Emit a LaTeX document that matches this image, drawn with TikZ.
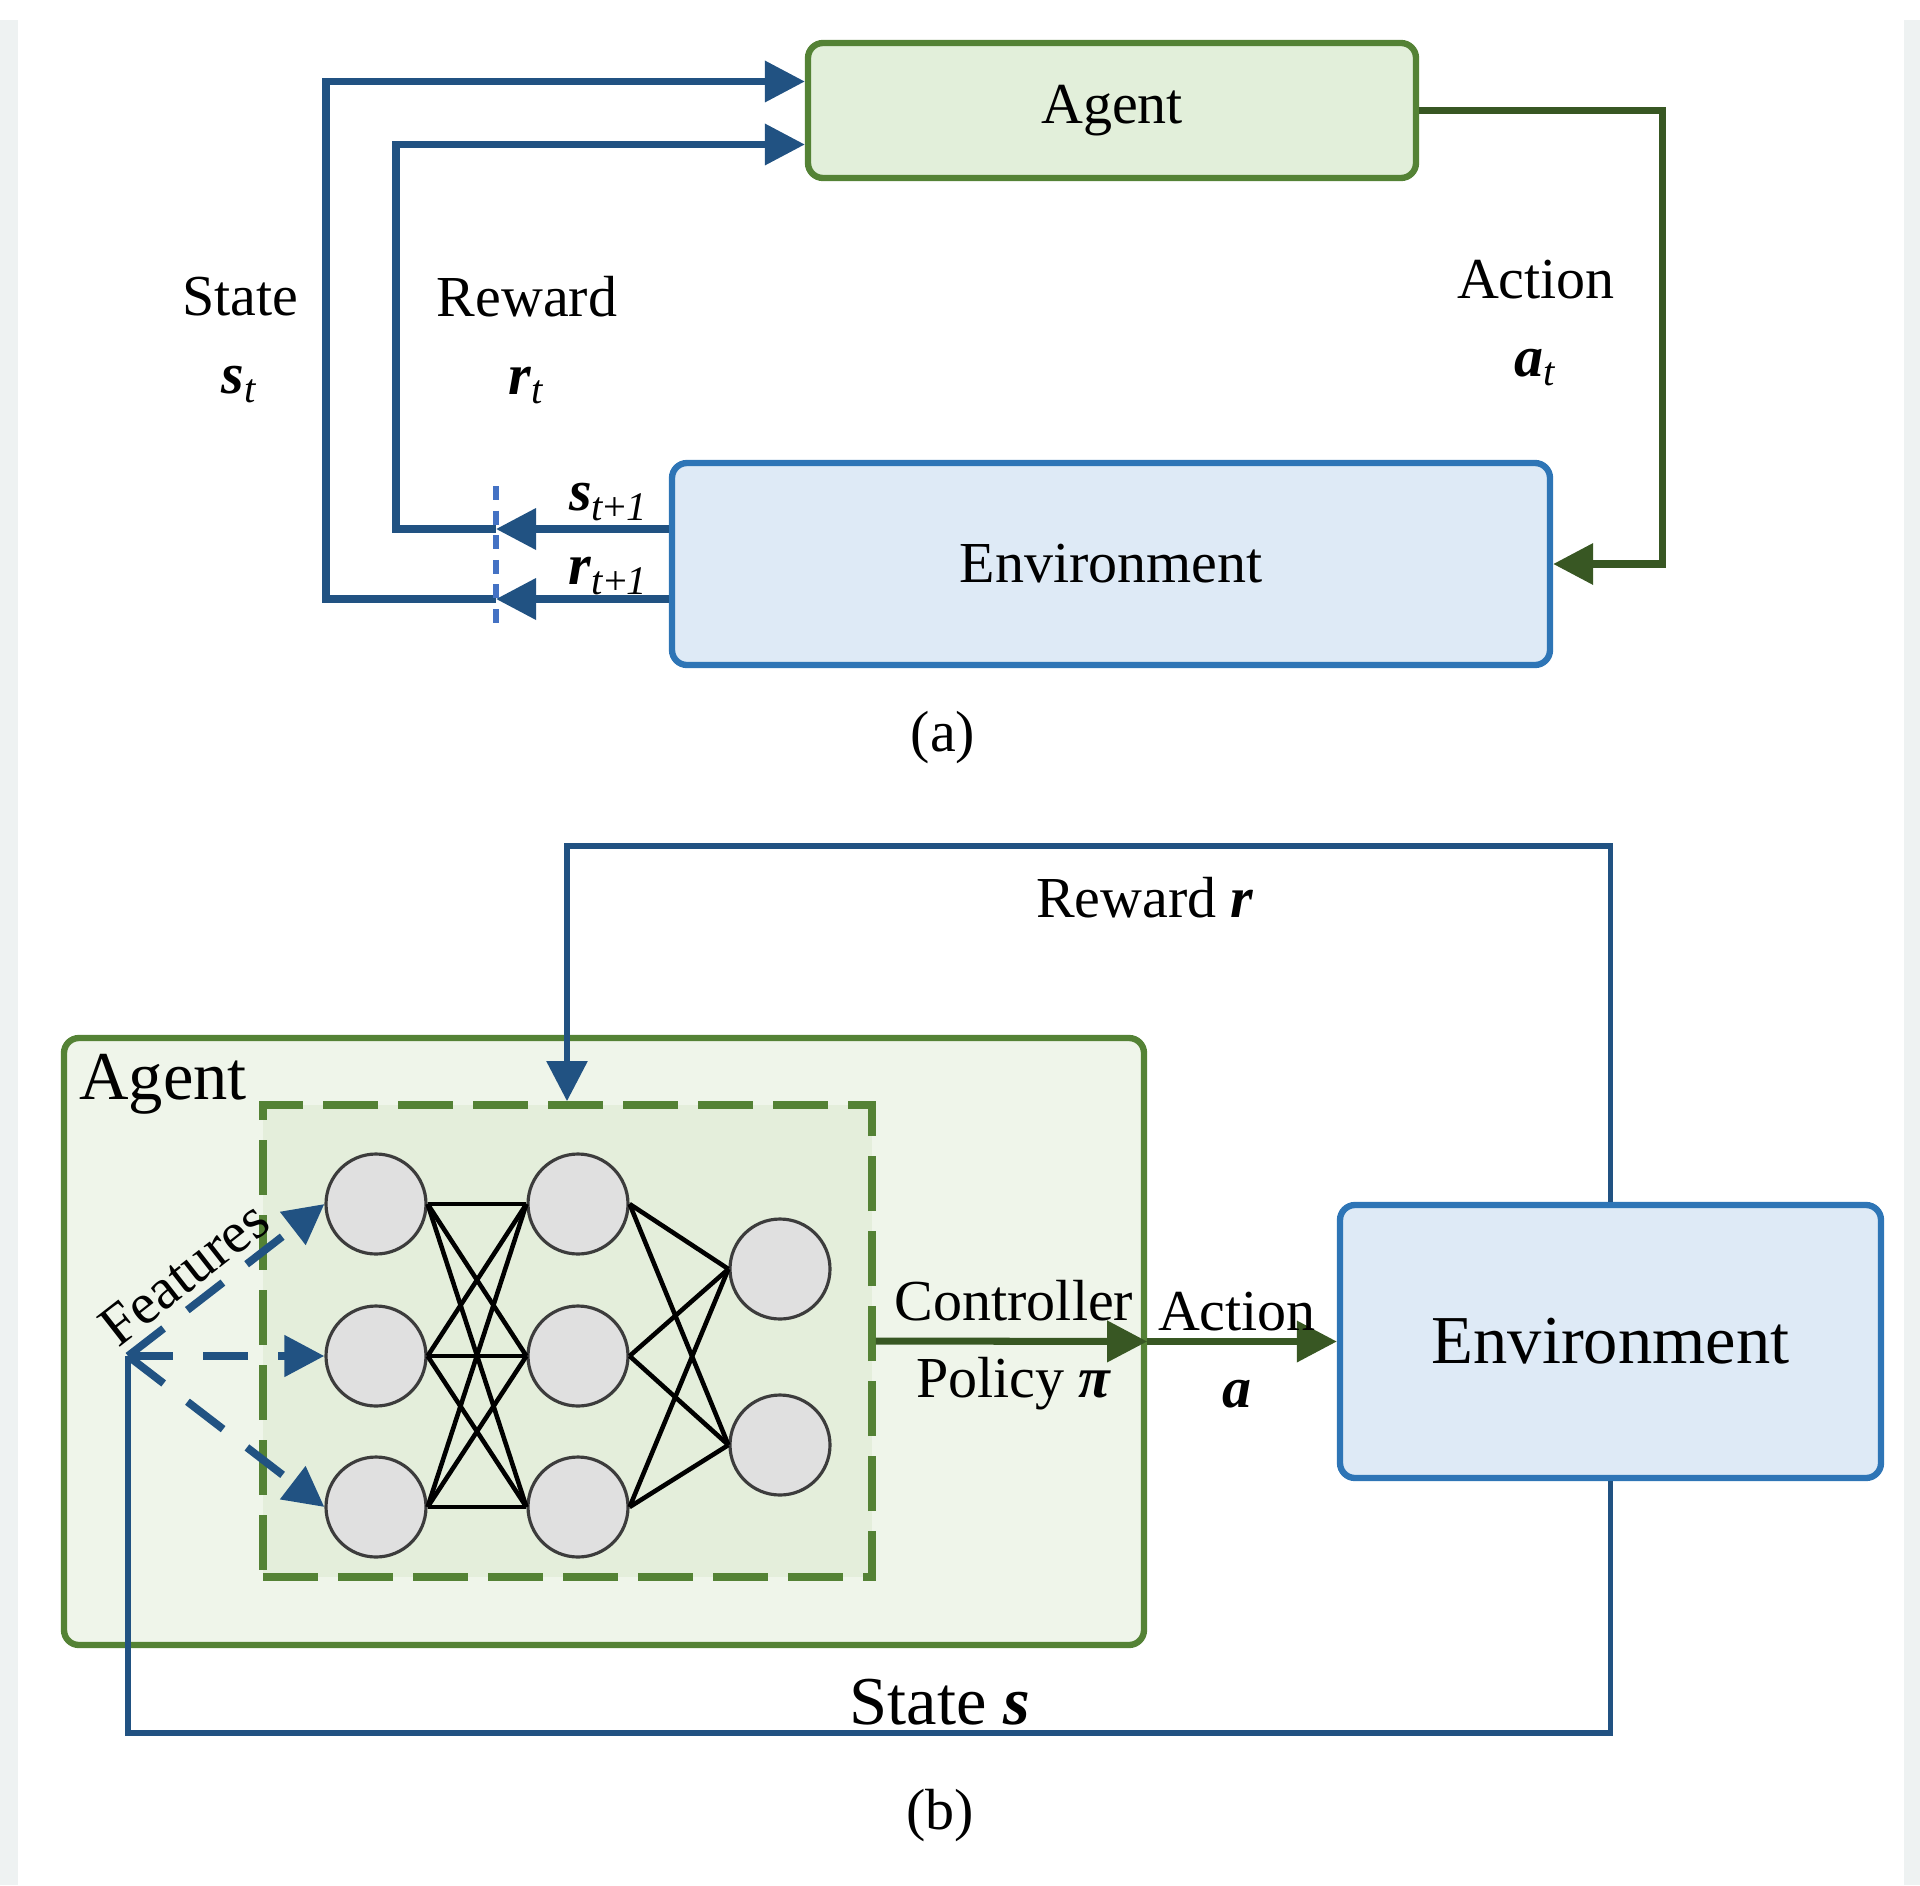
\documentclass[tikz,border=0pt]{standalone}
\usepackage{fontspec}
\setmainfont{Liberation Serif}
\usepackage{tikz}
\usetikzlibrary{arrows.meta}

\definecolor{margin}{RGB}{238,242,242}
\definecolor{flowblue}{RGB}{33,82,130}
\definecolor{actgreen}{RGB}{56,87,35}
\definecolor{agentline}{RGB}{84,130,53}
\definecolor{agentfill}{RGB}{226,239,218}
\definecolor{agentbfill}{RGB}{239,245,234}
\definecolor{innerfill}{RGB}{228,238,219}
\definecolor{envline}{RGB}{46,117,182}
\definecolor{envfill}{RGB}{222,234,246}
\definecolor{cutblue}{RGB}{68,114,196}
\definecolor{neuronfill}{RGB}{224,224,224}
\definecolor{neuronline}{RGB}{60,60,60}

\newcommand{\bisym}[1]{\textbf{\textit{#1}}}

\tikzset{
  lbl/.style={font=\fontsize{16.5}{22}\selectfont, align=center},
  biglbl/.style={font=\fontsize{19.5}{23}\selectfont, align=center},
  box/.style={draw, line width=1.8pt, rounded corners=1.5mm},
  agentbox/.style={box, draw=agentline, fill=agentfill},
  envbox/.style={box, draw=envline, fill=envfill},
  flow/.style={draw=flowblue, line width=2pt},
  flowarrow/.style={flow, -{Triangle[length=4mm,width=4mm]}},
  featarrow/.style={flow, line width=2.2pt, dash pattern=on 0.45cm off 0.3cm,
    -{Triangle[length=4mm,width=4mm]}},
  act/.style={draw=actgreen, line width=2pt, -{Triangle[length=4mm,width=4mm]}},
  neuron/.style={circle, draw=neuronline, fill=neuronfill, minimum size=1cm,
    inner sep=0pt, line width=0.9pt},
}

\begin{document}
\begin{tikzpicture}
  \useasboundingbox (0,0) rectangle (19.2,-18.85);
  \fill[margin] (0,-0.2) rectangle (0.18,-18.85);
  \fill[margin] (19.04,-0.2) rectangle (19.2,-18.85);

  % (a)
  \node[agentbox, lbl, minimum width=6.08cm, minimum height=1.35cm] (agenta) at (11.12,-1.105) {Agent};
  \node[envbox, lbl, minimum width=8.78cm, minimum height=2.02cm] (enva) at (11.11,-5.64) {Environment};

  \coordinate (scut) at (4.96,-5.29);
  \coordinate (rcut) at (4.96,-5.99);
  \coordinate (rloop) at (3.96,-5.29);
  \coordinate (sloop) at (3.26,-5.99);

  \draw[flowarrow] (enva.west |- scut) -- (scut);
  \draw[flowarrow] (enva.west |- rcut) -- (rcut);
  \draw[flowarrow] (scut) -- (rloop) |- ([yshift=-3.4mm]agenta.west);
  \draw[flowarrow] (rcut) -- (sloop) |- ([yshift=2.9mm]agenta.west);
  \draw[cutblue, line width=1.8pt, dash pattern=on 4pt off 3pt] (4.96,-4.86) -- (4.96,-6.33);

  \draw[act] (agenta.east) -- ++(2.43,0) |- (enva.east);

  \node[lbl] at (6.09,-5.02) {\bisym{s}\textsubscript{\textit{t}+\textit{1}}};
  \node[lbl] at (6.09,-5.76) {\bisym{r}\textsubscript{\textit{t}+\textit{1}}};
  \node[lbl] at (2.40,-3.40) {State\\\bisym{s}\textsubscript{\textit{t}}};
  \node[lbl] at (5.27,-3.40) {Reward\\\bisym{r}\textsubscript{\textit{t}}};
  \node[lbl] at (15.36,-3.23) {Action\\\bisym{a}\textsubscript{\textit{t}}};
  \node[lbl] at (9.43,-7.38) {(a)};

  % (b)
  \node[agentbox, fill=agentbfill, minimum width=10.80cm, minimum height=6.07cm] (agentb) at (6.04,-13.415) {};
  \node[biglbl, anchor=west] (agentlbl) at ([shift={(0.06,-0.49)}]agentb.north west) {Agent};
  \node[draw=agentline, fill=innerfill, line width=2.2pt, dash pattern=on 0.55cm off 0.2cm,
    minimum width=6.09cm, minimum height=4.72cm] (ctrl) at (5.675,-13.41) {};
  \node[envbox, biglbl, minimum width=5.41cm, minimum height=2.73cm]
    (envb) at (16.105,-13.415) {Environment};

  \foreach \i/\y in {1/-12.04,2/-13.56,3/-15.07} {
    \node[neuron] (a\i) at (3.76,\y) {};
    \node[neuron] (b\i) at (5.78,\y) {};
  }
  \node[neuron] (c1) at (7.80,-12.69) {};
  \node[neuron] (c2) at (7.80,-14.45) {};
  \foreach \i in {1,2,3}
    \foreach \j in {1,2,3}
      \draw[line width=1.3pt] (a\i.east) -- (b\j.west);
  \foreach \i in {1,2,3}
    \foreach \j in {1,2}
      \draw[line width=1.3pt] (b\i.east) -- (c\j.west);

  \coordinate (feat) at (1.28,-13.56);
  \foreach \i in {1,2,3}
    \draw[featarrow] (feat) -- (a\i.west);
  \node[lbl, rotate=38] at (1.84,-12.73) {Features};

  \coordinate (sbot) at (1.28,-17.33);
  \coordinate (rtop) at (5.67,-8.46);
  \draw[flow, line width=1.6pt] (envb.south) |- (sbot) -- (feat);
  \draw[flowarrow, line width=1.6pt] (envb.north) |- (rtop) -- (rtop |- ctrl.north);

  \draw[act] (ctrl.east) -- (agentb.east);
  \draw[act] (agentb.east) -- (envb.west);

  \node[lbl] at (11.45,-8.98) {Reward \bisym{r}};
  \node[biglbl] at (9.40,-17.02) {State \bisym{s}};
  \node[lbl] at (10.14,-13.45) {Controller\\Policy \bisym{π}};
  \node[lbl] at (12.37,-13.50) {Action\\\bisym{a}};
  \node[lbl] at (9.40,-18.16) {(b)};
\end{tikzpicture}
\end{document}
